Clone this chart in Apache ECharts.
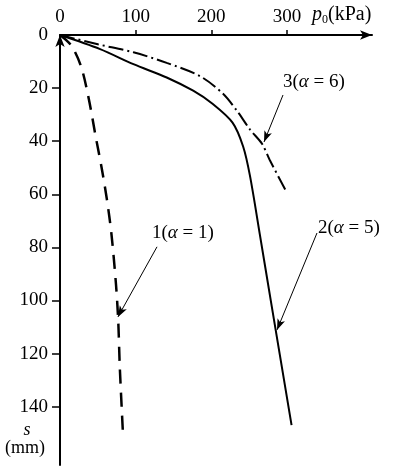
<!DOCTYPE html>
<html><head><meta charset="utf-8">
<script src="https://cdn.jsdelivr.net/npm/echarts@6/dist/echarts.min.js"></script>
<style>html,body{margin:0;padding:0;background:#fff}#c{width:395px;height:468px}</style>
</head><body><div id="c"></div>
<script>
// tick labels
const xLabelValues = [0, 100, 200, 300];
const xTickValues = [100, 200, 300];
const yLabelValues = [0, 20, 40, 60, 80, 100, 120, 140];
const yTickValues = [20, 40, 60, 80, 100, 120, 140];
// curve 1 (alpha = 1), dashed: p0 (kPa) and s (mm)
const curve1P = [0, 15, 28, 38, 47, 55, 62, 68, 74, 77, 79, 83];
const curve1S = [0, 4, 12, 24, 38, 50, 62, 75, 94, 108, 125, 149];
// curve 2 (alpha = 5), solid
const curve2P = [0, 53, 97, 141, 176, 202, 228, 242, 251, 264, 278.5, 306];
const curve2S = [0, 5.3, 11, 16, 21, 26, 33, 42, 53, 75, 100, 147];
// curve 3 (alpha = 6), dash-dot
const curve3P = [0, 50, 97, 141, 185, 215, 235, 251, 267, 277, 300];
const curve3S = [0, 3.5, 6.5, 10.5, 15.5, 22, 29, 35.6, 41, 47, 59.5];
// annotations: label text, text anchor [p,s], leader start [p,s], leader end [p,s]
const annNames = ['1', '2', '3'];
const annAlpha = ['1', '5', '6'];
const annText = [[121.6, 74.6], [341, 72.7], [294.7, 17.7]];
const annFrom = [[128.2, 79.8], [339.6, 74.6], [294.7, 22.6]];
const annTo = [[76.6, 106.2], [286.8, 111.1], [269.6, 40.3]];

const FONT = '"Liberation Serif", "DejaVu Serif", serif';
const zip = (a, b) => a.map((v, i) => [v, b[i]]);

function annotation(i) {
  return {
    markLine: {
      silent: true, animation: false,
      symbol: ['none', 'arrow'], symbolSize: [6, 11],
      lineStyle: {type: 'solid', width: 1, color: '#000'},
      label: {show: false},
      data: [[{coord: annFrom[i]}, {coord: annTo[i]}]]
    },
    markPoint: {
      silent: true, animation: false,
      symbol: 'circle', symbolSize: 0,
      data: [{coord: annText[i], label: {
        show: true, position: 'right', distance: 0,
        formatter: annNames[i] + '({a|α} = ' + annAlpha[i] + ')',
        fontFamily: FONT, fontSize: 19, color: '#000',
        rich: {a: {fontFamily: FONT, fontSize: 19, fontStyle: 'italic', color: '#000'}}
      }}]
    }
  };
}

const chart = echarts.init(document.getElementById('c'));
const axisLineStyle = {color: '#000', width: 2};
chart.setOption({
  backgroundColor: '#fff',
  animation: false,
  grid: {left: 60, top: 35, width: 312, height: 430, containLabel: false},
  xAxis: {
    type: 'value', position: 'top', min: 0, max: 412.3,
    splitLine: {show: false},
    axisLine: {show: true, onZero: false, lineStyle: axisLineStyle, symbol: ['none', 'arrow'], symbolSize: [7, 12]},
    axisTick: {show: true, inside: false, length: 5, lineStyle: {color: '#000', width: 1.5}, customValues: xTickValues},
    axisLabel: {customValues: xLabelValues, margin: 8, fontFamily: FONT, fontSize: 19, color: '#000'}
  },
  yAxis: {
    type: 'value', inverse: true, min: 0, max: 162,
    splitLine: {show: false},
    axisLine: {show: true, onZero: false, lineStyle: axisLineStyle, symbol: ['none', 'arrow'], symbolSize: [7, 12]},
    axisTick: {show: true, length: 8, lineStyle: {color: '#000', width: 1.5}, customValues: yTickValues},
    axisLabel: {customValues: yLabelValues, margin: 12, fontFamily: FONT, fontSize: 19, color: '#000'}
  },
  graphic: [
    {type: 'text', left: 312, top: 5, style: {
      text: '{i|p}{sub|0}(kPa)', fontFamily: FONT, fontSize: 20, fill: '#000',
      rich: {i: {fontFamily: FONT, fontSize: 20, fontStyle: 'italic'}, sub: {fontFamily: FONT, fontSize: 12, verticalAlign: 'bottom', padding: [9, 0, 0, 0]}}
    }},
    {type: 'text', x: 27, y: 430, style: {text: 's', fontFamily: FONT, fontSize: 18, fontStyle: 'italic', fill: '#000', align: 'center', verticalAlign: 'middle'}},
    {type: 'text', x: 25, y: 448, style: {text: '(mm)', fontFamily: FONT, fontSize: 18, fill: '#000', align: 'center', verticalAlign: 'middle'}}
  ],
  series: [
    Object.assign({type: 'line', name: '1', data: zip(curve1P, curve1S), smooth: 0.3, showSymbol: false,
      lineStyle: {color: '#000', width: 2.5, type: [14, 9]}}, annotation(0)),
    Object.assign({type: 'line', name: '2', data: zip(curve2P, curve2S), smooth: 0.3, showSymbol: false,
      lineStyle: {color: '#000', width: 2}}, annotation(1)),
    Object.assign({type: 'line', name: '3', data: zip(curve3P, curve3S), smooth: 0.3, showSymbol: false,
      lineStyle: {color: '#000', width: 2, type: [15, 4, 2, 4]}}, annotation(2))
  ]
});
</script></body></html>
